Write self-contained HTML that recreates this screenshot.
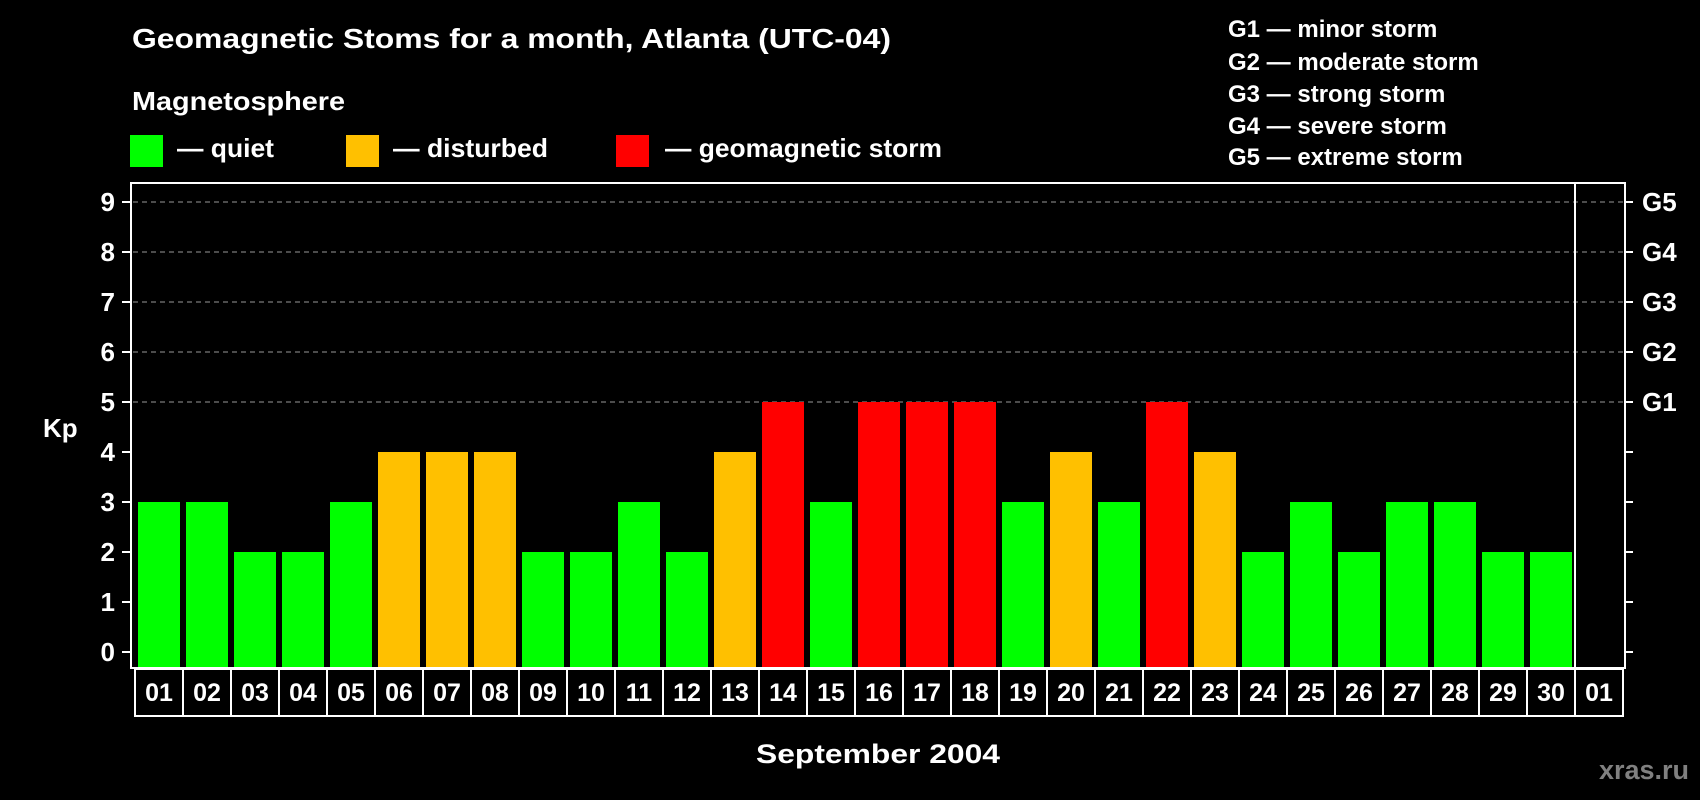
<!DOCTYPE html>
<html><head><meta charset="utf-8"><style>
html,body{margin:0;padding:0;background:#000;}
svg{display:block;font-family:"Liberation Sans",Arial,sans-serif;font-weight:bold;}
</style></head><body>
<svg id="chart" width="1700" height="800" viewBox="0 0 1700 800" xmlns="http://www.w3.org/2000/svg">
<rect width="1700" height="800" fill="#000"/>
<text x="132" y="48" fill="#fff" font-size="28" textLength="759" lengthAdjust="spacingAndGlyphs">Geomagnetic Stoms for a month, Atlanta (UTC-04)</text>
<text x="132" y="110" fill="#fff" font-size="26" textLength="213" lengthAdjust="spacingAndGlyphs">Magnetosphere</text>
<g>
<rect x="130" y="135" width="33" height="32" fill="#00ff00"/>
<text x="177" y="157" fill="#fff" font-size="26" textLength="97" lengthAdjust="spacingAndGlyphs">— quiet</text></g>
<g>
<rect x="346" y="135" width="33" height="32" fill="#ffc000"/>
<text x="393" y="157" fill="#fff" font-size="26" textLength="155" lengthAdjust="spacingAndGlyphs">— disturbed</text></g>
<g>
<rect x="616" y="135" width="33" height="32" fill="#ff0000"/>
<text x="665" y="157" fill="#fff" font-size="26" textLength="277" lengthAdjust="spacingAndGlyphs">— geomagnetic storm</text></g>
<g fill="#fff" font-size="24">
<text x="1228" y="37">G1 — minor storm</text>
<text x="1228" y="70">G2 — moderate storm</text>
<text x="1228" y="102">G3 — strong storm</text>
<text x="1228" y="134">G4 — severe storm</text>
<text x="1228" y="165">G5 — extreme storm</text>
</g>
<text x="43" y="437" fill="#fff" font-size="26">Kp</text>
<text x="878" y="763" fill="#fff" font-size="27" text-anchor="middle" textLength="244" lengthAdjust="spacingAndGlyphs">September 2004</text>
<text x="1689" y="779" fill="#808080" font-size="27" text-anchor="end">xras.ru</text>
<g id="plot"></g>
</svg>
<script>
const days = ["01","02","03","04","05","06","07","08","09","10","11","12","13","14","15","16","17","18","19","20","21","22","23","24","25","26","27","28","29","30"];
const kpValues = [3,3,2,2,3,4,4,4,2,2,3,2,4,5,3,5,5,5,3,4,3,5,4,2,3,2,3,3,2,2];
const yTicks = [0,1,2,3,4,5,6,7,8,9];
const gLabels = ["G1","G2","G3","G4","G5"];
const gLevels = [5,6,7,8,9];

const NS="http://www.w3.org/2000/svg";
const plot=document.getElementById('plot');
const X0=138, PITCH=48, BW=42, Y0=652, UNIT=50, FRAME_L=131, FRAME_R=1625, FRAME_T=183, FRAME_B=668;
const xPos=i=>X0+i*PITCH;
const yPos=v=>Y0-v*UNIT;
function mk(tag,attrs){const e=document.createElementNS(NS,tag);for(const k in attrs)e.setAttribute(k,attrs[k]);plot.appendChild(e);return e;}
function color(v){return v>=5?"#ff0000":(v>=4?"#ffc000":"#00ff00");}

// gridlines
yTicks.forEach(t=>{
  if(t>=5){const g=mk('line',{x1:FRAME_L+2,x2:FRAME_R-2,y1:yPos(t),y2:yPos(t),stroke:"#999","stroke-width":1,"stroke-dasharray":"5,4"});
  
  }
  const tl=mk('line',{x1:122,x2:FRAME_L,y1:yPos(t),y2:yPos(t),stroke:"#fff","stroke-width":2});
  
  
  const tr=mk('line',{x1:FRAME_R,x2:1633,y1:yPos(t),y2:yPos(t),stroke:"#fff","stroke-width":2});
  
  
  const lb=mk('text',{x:115,y:yPos(t)+9,fill:"#fff","font-size":26,"text-anchor":"end"});
  lb.textContent=t;
  
  
});
gLabels.forEach((g,i)=>{
  const lb=mk('text',{x:1642,y:yPos(gLevels[i])+9,fill:"#fff","font-size":26});
  lb.textContent=g;
  
  
});
// bars
kpValues.forEach((v,i)=>{
  const r=mk('rect',{x:xPos(i),y:yPos(v),width:BW,height:FRAME_B-yPos(v),fill:color(v)});
  
  
});
// frame
const fr=mk('rect',{x:FRAME_L,y:FRAME_T,width:FRAME_R-FRAME_L,height:FRAME_B-FRAME_T,fill:"none",stroke:"#fff","stroke-width":2});


const dv=mk('line',{x1:xPos(days.length)-3,x2:xPos(days.length)-3,y1:FRAME_T,y2:FRAME_B,stroke:"#fff","stroke-width":2});


// day label boxes
const labels=days.concat(["01"]);
labels.forEach((d,i)=>{
  const cx=xPos(i)-3;
  const b=mk('rect',{x:cx,y:669,width:PITCH,height:47,fill:"none",stroke:"#fff","stroke-width":2});
  
  
  const t=mk('text',{x:cx+PITCH/2,y:701,fill:"#fff","font-size":25,"text-anchor":"middle"});
  t.textContent=d;
  
  
});
</script>
</body></html>
